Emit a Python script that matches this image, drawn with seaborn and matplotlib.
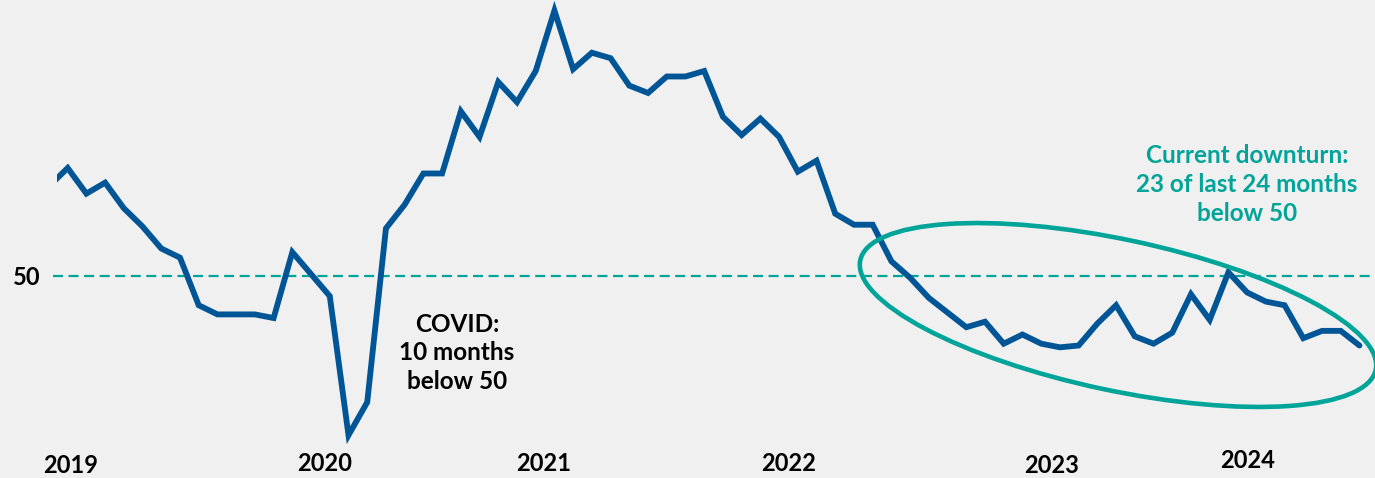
import matplotlib
matplotlib.use("Agg")
import matplotlib.pyplot as plt
from matplotlib.patches import Ellipse
import pandas as pd
import seaborn as sns

# Monthly index readings, Dec 2018 through Oct 2024
months = pd.date_range("2018-12-01", "2024-10-01", freq="MS").strftime("%b %Y").tolist()
index_values = [
    54.9, 55.9, 54.5, 55.1, 53.7, 52.7, 51.5, 51.0, 48.4, 47.9, 47.9, 47.9, 47.7,   # Dec18-Dec19
    51.3, 50.1, 48.9, 41.3, 43.1, 52.6, 53.9, 55.6, 55.6, 59.0, 57.6, 60.6,         # 2020
    59.5, 61.2, 64.5, 61.3, 62.2, 61.9, 60.4, 60.0, 60.9, 60.9, 61.2, 58.7,         # 2021
    57.7, 58.6, 57.6, 55.7, 56.3, 53.4, 52.8, 52.8, 50.8, 49.9, 48.8, 48.0,         # 2022
    47.2, 47.5, 46.3, 46.8, 46.3, 46.1, 46.2, 47.4, 48.4, 46.7, 46.3, 46.9,         # 2023
    49.0, 47.6, 50.2, 49.1, 48.6, 48.4, 46.6, 47.0, 47.0, 46.2,                     # 2024
]
threshold = 50

year_labels = ["2019", "2020", "2021", "2022", "2023", "2024"]
year_label_pos = [1.18, 14.74, 26.44, 39.53, 53.53, 64.0]
year_label_y = [0.027, 0.031, 0.031, 0.031, 0.027, 0.037]

covid_note = "COVID:\n10 months\nbelow 50"
downturn_note = "Current downturn:\n23 of last 24 months\nbelow 50"

BLUE = "#005596"
TEAL = "#00a499"
BG = "#f0f0f0"

sns.set_theme(style="white")
plt.rcParams["font.family"] = ["Lato", "DejaVu Sans"]
plt.rcParams["font.weight"] = "bold"

df = pd.DataFrame({"month": months, "idx": range(len(months)), "value": index_values})

fig = plt.figure(figsize=(13.75, 4.78), dpi=100, facecolor=BG)
ax = fig.add_axes([57 / 1375, 0, 1318 / 1375, 1])
ax.set_facecolor(BG)

ax.axhline(threshold, xmin=-0.003, xmax=1, color=TEAL, lw=1.6, ls=(0, (4.5, 2.5)), clip_on=False, zorder=1)
sns.lineplot(data=df, x="idx", y="value", ax=ax, color=BLUE, lw=4.2, zorder=3)
ax.lines[-1].set_solid_capstyle("round")
ax.lines[-1].set_solid_joinstyle("miter")

ax.set_xlim(0.43, 70.83)
ax.set_ylim(38.96, 65.08)

for s in ax.spines.values():
    s.set_visible(False)
ax.set_xlabel("")
ax.set_ylabel("")
ax.set_xticks([])
ax.set_yticks([threshold])
ax.set_yticklabels([str(threshold)], fontsize=17, fontweight="bold", color="black")
ax.tick_params(axis="y", length=0, pad=12)

for lab, xp, yp in zip(year_labels, year_label_pos, year_label_y):
    ax.text(xp, yp, lab, transform=ax.get_xaxis_transform(), ha="center", va="center",
            fontsize=17, fontweight="bold", color="black")

ax.text(21.8, 45.8, covid_note, ha="center", va="center", fontsize=17.5, fontweight="bold",
        color="black", linespacing=1.3)
ax.text(64.0, 55.0, downturn_note, ha="center", va="center", fontsize=17.5, fontweight="bold",
        color=TEAL, linespacing=1.3)

ring = Ellipse((11.18, 1.63), 5.27, 1.51, angle=-12, transform=fig.dpi_scale_trans,
               fill=False, ec=TEAL, lw=3.3, clip_on=False, zorder=4)
ax.add_patch(ring)

fig.savefig("out.png", dpi=100, facecolor=BG)
